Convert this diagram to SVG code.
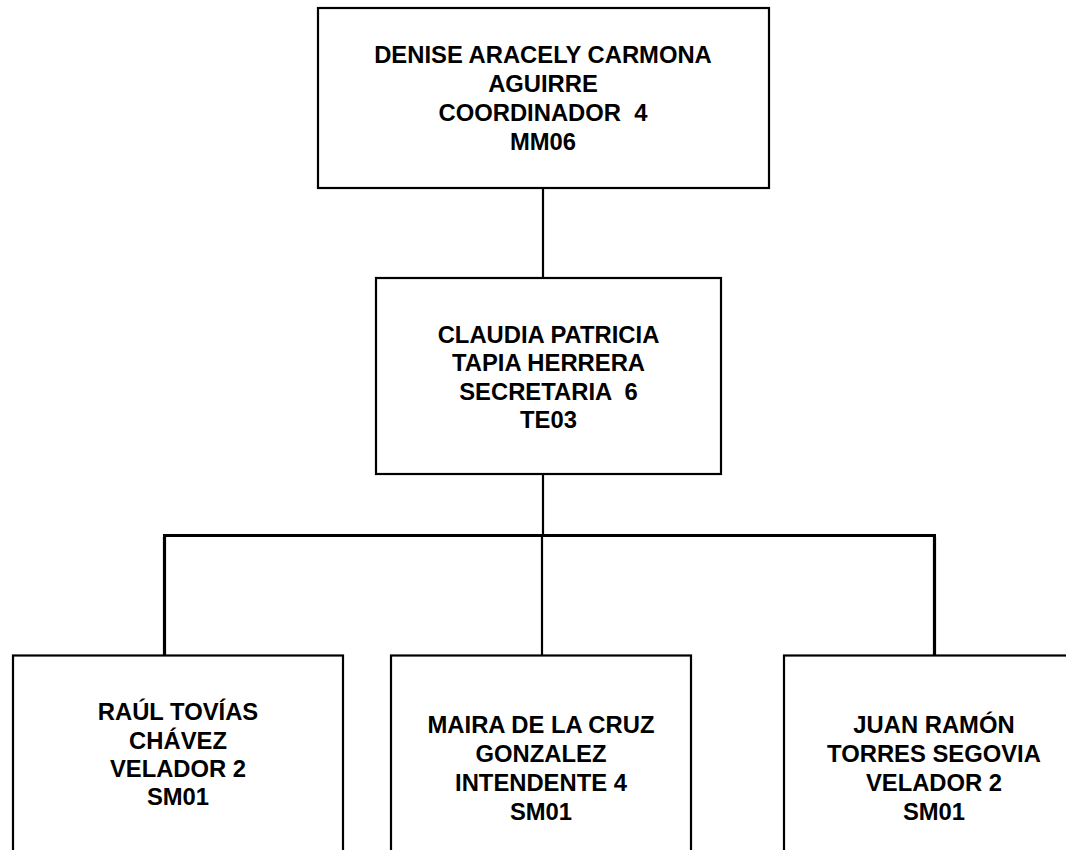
<svg xmlns="http://www.w3.org/2000/svg" width="1066" height="850" viewBox="0 0 1066 850">
<style>
.box{fill:#fff;stroke:#000;stroke-width:2.2}
.t{font-family:"Liberation Sans",Arial,sans-serif;font-weight:bold;font-size:23.8px;fill:#000;text-anchor:middle;white-space:pre}
.c{stroke:#000;stroke-width:2.2;fill:none}
.bus{stroke:#000;stroke-width:3.2;fill:none}
</style>
<rect width="1066" height="850" fill="#fff"/>
<g id="connectors">
<line class="c" x1="543" y1="188" x2="543" y2="278"/>
<line class="c" x1="543" y1="475" x2="543" y2="535"/>
<line class="bus" x1="163" y1="535.5" x2="936" y2="535.5"/>
<line class="bus" x1="164.5" y1="537" x2="164.5" y2="655"/>
<line class="c" x1="542" y1="535" x2="542" y2="655"/>
<line class="bus" x1="934.5" y1="537" x2="934.5" y2="655"/>
</g>
<g id="n1">
<rect class="box" x="318" y="8" width="451" height="180"/>
<text class="t" xml:space="preserve"><tspan x="543" y="63">DENISE ARACELY CARMONA</tspan><tspan x="543" y="92">AGUIRRE</tspan><tspan x="543" y="121">COORDINADOR  4</tspan><tspan x="543" y="150">MM06</tspan></text>
</g>
<g id="n2">
<rect class="box" x="376" y="278" width="345" height="196"/>
<text class="t" xml:space="preserve"><tspan x="548.5" y="342.5">CLAUDIA PATRICIA</tspan><tspan x="548.5" y="371">TAPIA HERRERA</tspan><tspan x="548.5" y="399.5">SECRETARIA  6</tspan><tspan x="548.5" y="428">TE03</tspan></text>
</g>
<g id="n3">
<rect class="box" x="13" y="655.5" width="330" height="210"/>
<text class="t"><tspan x="178" y="720">RAÚL TOVÍAS</tspan><tspan x="178" y="748.5">CHÁVEZ</tspan><tspan x="178" y="777">VELADOR 2</tspan><tspan x="178" y="805">SM01</tspan></text>
</g>
<g id="n4">
<rect class="box" x="391" y="655.5" width="300" height="210"/>
<text class="t"><tspan x="541" y="733">MAIRA DE LA CRUZ</tspan><tspan x="541" y="762">GONZALEZ</tspan><tspan x="541" y="791">INTENDENTE 4</tspan><tspan x="541" y="820">SM01</tspan></text>
</g>
<g id="n5">
<rect class="box" x="784" y="655.5" width="300" height="210"/>
<text class="t"><tspan x="934" y="733">JUAN RAMÓN</tspan><tspan x="934" y="762">TORRES SEGOVIA</tspan><tspan x="934" y="791">VELADOR 2</tspan><tspan x="934" y="820">SM01</tspan></text>
</g>
</svg>
